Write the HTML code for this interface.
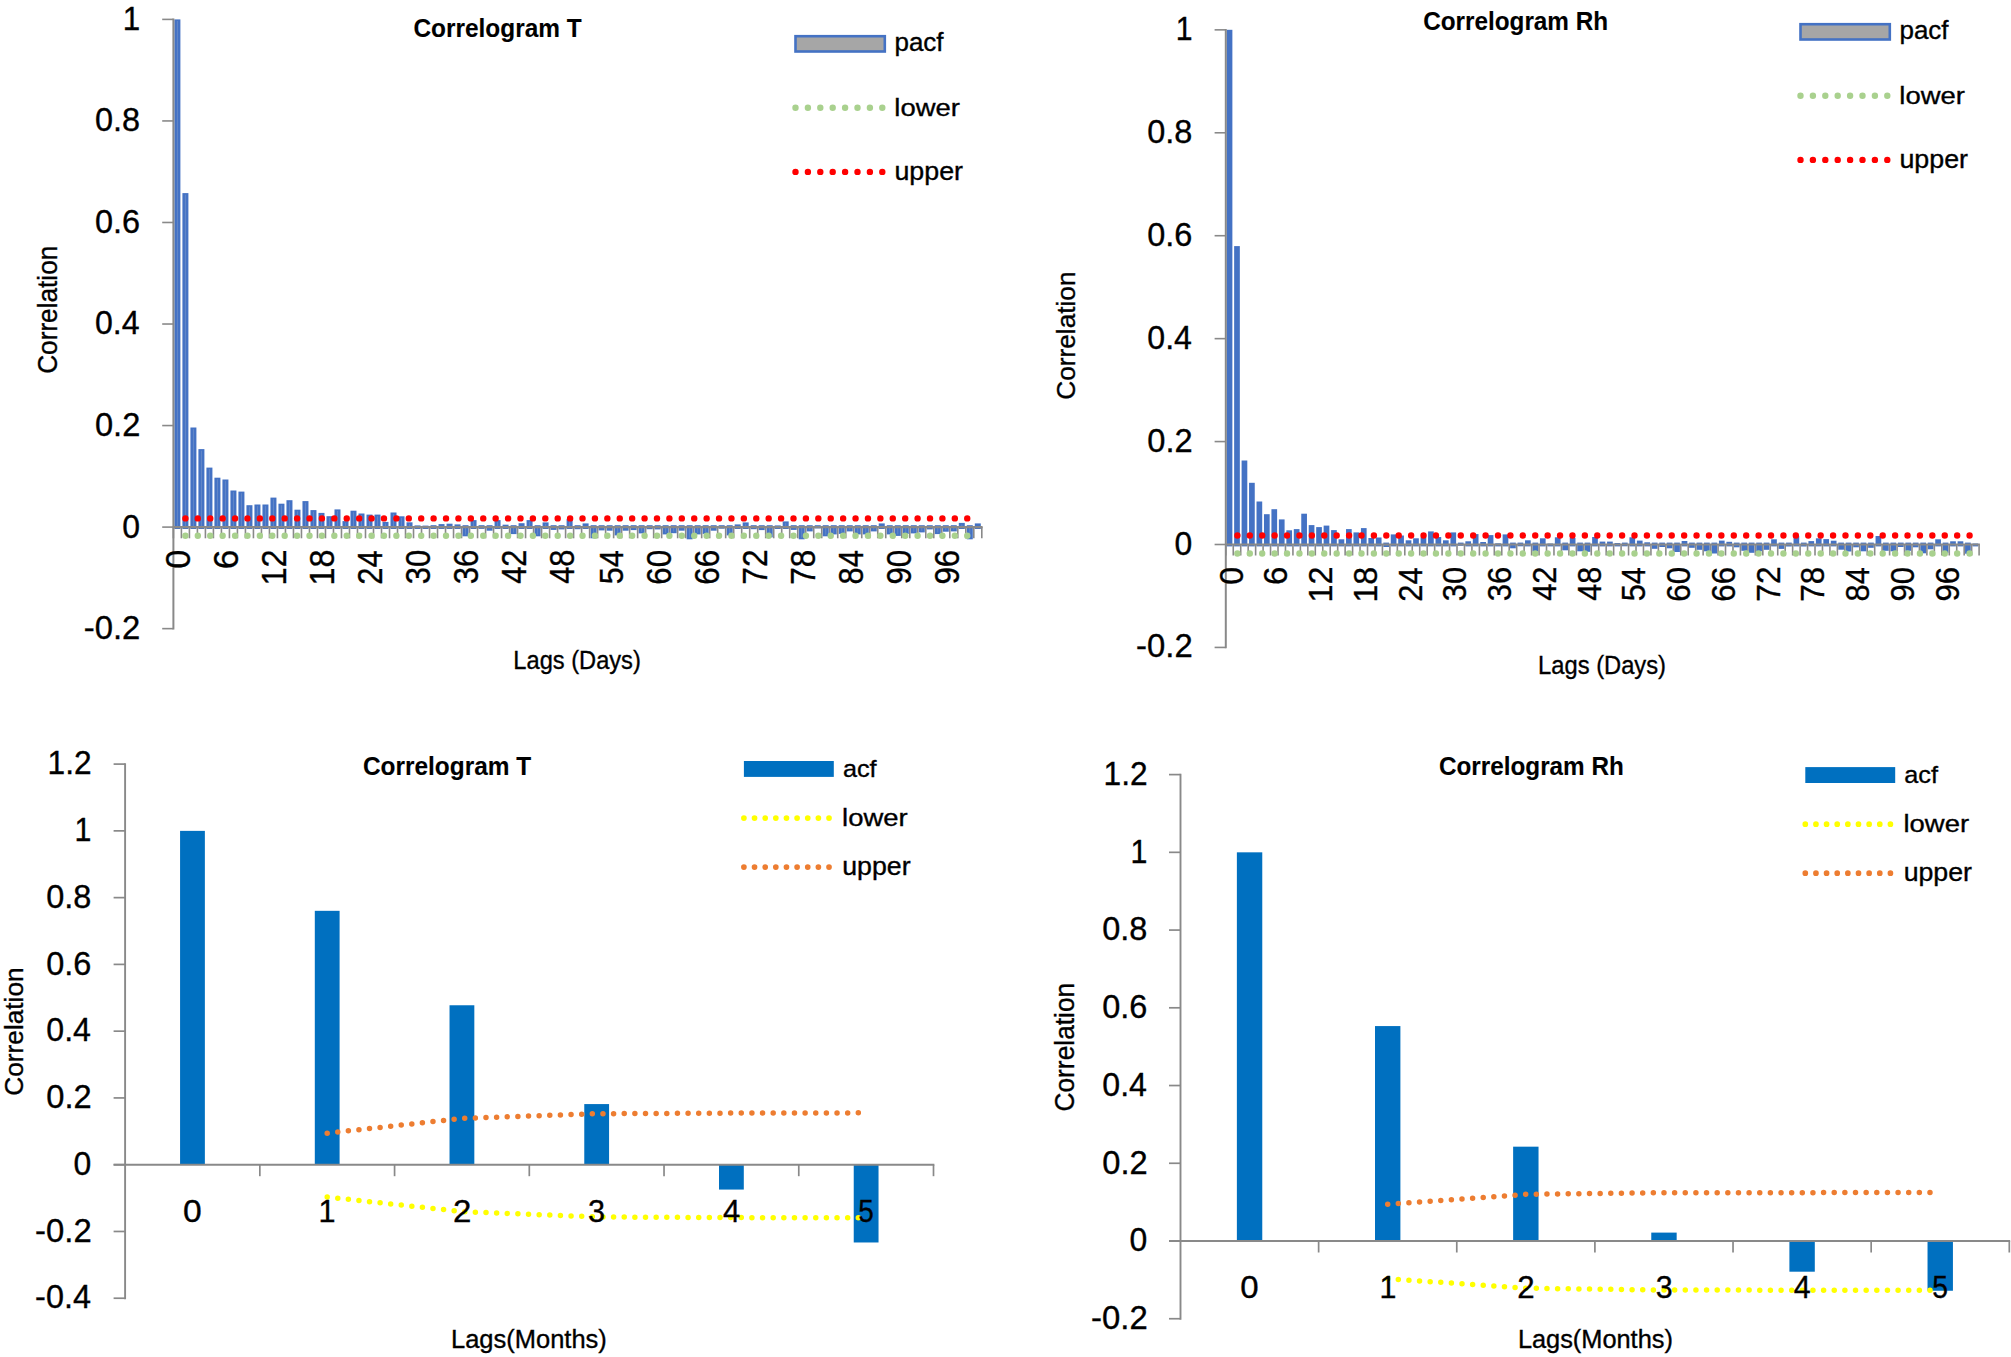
<!DOCTYPE html>
<html lang="en"><head><meta charset="utf-8"><title>Correlograms</title>
<style>html,body{margin:0;padding:0;background:#fff}svg{display:block}</style></head>
<body><svg width="2011" height="1357" viewBox="0 0 2011 1357">
<rect width="2011" height="1357" fill="#fff"/>
<g font-family="'Liberation Sans', sans-serif" fill="#000" stroke="#000" stroke-width="0.35">
<rect x="174.40" y="19.40" width="6.00" height="509.60" fill="#4472c4" stroke="none" />
<rect x="176.90" y="21.00" width="1.00" height="506.10" fill="#6388c9" stroke="none" />
<rect x="182.41" y="193.10" width="6.00" height="335.90" fill="#4472c4" stroke="none" />
<rect x="184.91" y="194.70" width="1.00" height="332.40" fill="#6388c9" stroke="none" />
<rect x="190.41" y="427.50" width="6.00" height="101.50" fill="#4472c4" stroke="none" />
<rect x="192.91" y="429.10" width="1.00" height="98.00" fill="#6388c9" stroke="none" />
<rect x="198.41" y="449.10" width="6.00" height="79.90" fill="#4472c4" stroke="none" />
<rect x="200.91" y="450.70" width="1.00" height="76.40" fill="#6388c9" stroke="none" />
<rect x="206.42" y="467.60" width="6.00" height="61.40" fill="#4472c4" stroke="none" />
<rect x="208.92" y="469.20" width="1.00" height="57.90" fill="#6388c9" stroke="none" />
<rect x="214.42" y="477.70" width="6.00" height="51.30" fill="#4472c4" stroke="none" />
<rect x="216.92" y="479.30" width="1.00" height="47.80" fill="#6388c9" stroke="none" />
<rect x="222.43" y="479.50" width="6.00" height="49.50" fill="#4472c4" stroke="none" />
<rect x="224.93" y="481.10" width="1.00" height="46.00" fill="#6388c9" stroke="none" />
<rect x="230.43" y="490.50" width="6.00" height="38.50" fill="#4472c4" stroke="none" />
<rect x="232.93" y="492.10" width="1.00" height="35.00" fill="#6388c9" stroke="none" />
<rect x="238.43" y="491.60" width="6.00" height="37.40" fill="#4472c4" stroke="none" />
<rect x="240.93" y="493.20" width="1.00" height="33.90" fill="#6388c9" stroke="none" />
<rect x="246.44" y="505.20" width="6.00" height="23.80" fill="#4472c4" stroke="none" />
<rect x="248.94" y="506.80" width="1.00" height="20.30" fill="#6388c9" stroke="none" />
<rect x="254.44" y="504.50" width="6.00" height="24.50" fill="#4472c4" stroke="none" />
<rect x="256.94" y="506.10" width="1.00" height="21.00" fill="#6388c9" stroke="none" />
<rect x="262.45" y="504.50" width="6.00" height="24.50" fill="#4472c4" stroke="none" />
<rect x="264.95" y="506.10" width="1.00" height="21.00" fill="#6388c9" stroke="none" />
<rect x="270.45" y="497.60" width="6.00" height="31.40" fill="#4472c4" stroke="none" />
<rect x="272.95" y="499.20" width="1.00" height="27.90" fill="#6388c9" stroke="none" />
<rect x="278.45" y="503.70" width="6.00" height="25.30" fill="#4472c4" stroke="none" />
<rect x="280.95" y="505.30" width="1.00" height="21.80" fill="#6388c9" stroke="none" />
<rect x="286.46" y="500.20" width="6.00" height="28.80" fill="#4472c4" stroke="none" />
<rect x="288.96" y="501.80" width="1.00" height="25.30" fill="#6388c9" stroke="none" />
<rect x="294.46" y="509.70" width="6.00" height="19.30" fill="#4472c4" stroke="none" />
<rect x="296.96" y="511.30" width="1.00" height="15.80" fill="#6388c9" stroke="none" />
<rect x="302.47" y="501.10" width="6.00" height="27.90" fill="#4472c4" stroke="none" />
<rect x="304.97" y="502.70" width="1.00" height="24.40" fill="#6388c9" stroke="none" />
<rect x="310.47" y="510.10" width="6.00" height="18.90" fill="#4472c4" stroke="none" />
<rect x="312.97" y="511.70" width="1.00" height="15.40" fill="#6388c9" stroke="none" />
<rect x="318.47" y="512.90" width="6.00" height="16.10" fill="#4472c4" stroke="none" />
<rect x="320.97" y="514.50" width="1.00" height="12.60" fill="#6388c9" stroke="none" />
<rect x="326.48" y="516.20" width="6.00" height="12.80" fill="#4472c4" stroke="none" />
<rect x="328.98" y="517.80" width="1.00" height="9.30" fill="#6388c9" stroke="none" />
<rect x="334.48" y="509.40" width="6.00" height="19.60" fill="#4472c4" stroke="none" />
<rect x="336.98" y="511.00" width="1.00" height="16.10" fill="#6388c9" stroke="none" />
<rect x="342.49" y="521.10" width="6.00" height="7.90" fill="#4472c4" stroke="none" />
<rect x="344.99" y="522.70" width="1.00" height="4.40" fill="#6388c9" stroke="none" />
<rect x="350.49" y="510.70" width="6.00" height="18.30" fill="#4472c4" stroke="none" />
<rect x="352.99" y="512.30" width="1.00" height="14.80" fill="#6388c9" stroke="none" />
<rect x="358.49" y="513.50" width="6.00" height="15.50" fill="#4472c4" stroke="none" />
<rect x="360.99" y="515.10" width="1.00" height="12.00" fill="#6388c9" stroke="none" />
<rect x="366.50" y="514.60" width="6.00" height="14.40" fill="#4472c4" stroke="none" />
<rect x="369.00" y="516.20" width="1.00" height="10.90" fill="#6388c9" stroke="none" />
<rect x="374.50" y="514.60" width="6.00" height="14.40" fill="#4472c4" stroke="none" />
<rect x="377.00" y="516.20" width="1.00" height="10.90" fill="#6388c9" stroke="none" />
<rect x="382.50" y="521.90" width="6.00" height="7.10" fill="#4472c4" stroke="none" />
<rect x="385.00" y="523.50" width="1.00" height="3.60" fill="#6388c9" stroke="none" />
<rect x="390.51" y="512.50" width="6.00" height="16.50" fill="#4472c4" stroke="none" />
<rect x="393.01" y="514.10" width="1.00" height="13.00" fill="#6388c9" stroke="none" />
<rect x="398.51" y="516.30" width="6.00" height="12.70" fill="#4472c4" stroke="none" />
<rect x="401.01" y="517.90" width="1.00" height="9.20" fill="#6388c9" stroke="none" />
<rect x="406.52" y="522.30" width="6.00" height="6.70" fill="#4472c4" stroke="none" />
<rect x="409.02" y="523.90" width="1.00" height="3.20" fill="#6388c9" stroke="none" />
<rect x="414.52" y="525.40" width="6.00" height="3.60" fill="#4472c4" stroke="none" />
<rect x="422.52" y="525.60" width="6.00" height="3.40" fill="#4472c4" stroke="none" />
<rect x="430.53" y="525.20" width="6.00" height="3.80" fill="#4472c4" stroke="none" />
<rect x="438.53" y="524.10" width="6.00" height="4.90" fill="#4472c4" stroke="none" />
<rect x="446.54" y="523.70" width="6.00" height="5.30" fill="#4472c4" stroke="none" />
<rect x="454.54" y="524.40" width="6.00" height="4.60" fill="#4472c4" stroke="none" />
<rect x="462.54" y="525.20" width="6.00" height="11.10" fill="#4472c4" stroke="none" />
<rect x="465.04" y="527.10" width="1.00" height="7.60" fill="#6388c9" stroke="none" />
<rect x="470.55" y="520.10" width="6.00" height="8.90" fill="#4472c4" stroke="none" />
<rect x="473.05" y="521.70" width="1.00" height="5.40" fill="#6388c9" stroke="none" />
<rect x="478.55" y="525.20" width="6.00" height="3.70" fill="#4472c4" stroke="none" />
<rect x="486.56" y="525.20" width="6.00" height="5.50" fill="#4472c4" stroke="none" />
<rect x="494.56" y="520.10" width="6.00" height="8.90" fill="#4472c4" stroke="none" />
<rect x="497.06" y="521.70" width="1.00" height="5.40" fill="#6388c9" stroke="none" />
<rect x="502.56" y="524.70" width="6.00" height="4.30" fill="#4472c4" stroke="none" />
<rect x="510.57" y="525.20" width="6.00" height="8.90" fill="#4472c4" stroke="none" />
<rect x="513.07" y="527.10" width="1.00" height="5.40" fill="#6388c9" stroke="none" />
<rect x="518.57" y="523.20" width="6.00" height="5.80" fill="#4472c4" stroke="none" />
<rect x="526.58" y="520.10" width="6.00" height="8.90" fill="#4472c4" stroke="none" />
<rect x="529.08" y="521.70" width="1.00" height="5.40" fill="#6388c9" stroke="none" />
<rect x="534.58" y="525.20" width="6.00" height="11.10" fill="#4472c4" stroke="none" />
<rect x="537.08" y="527.10" width="1.00" height="7.60" fill="#6388c9" stroke="none" />
<rect x="542.58" y="522.40" width="6.00" height="6.60" fill="#4472c4" stroke="none" />
<rect x="545.08" y="524.00" width="1.00" height="3.10" fill="#6388c9" stroke="none" />
<rect x="550.59" y="525.20" width="6.00" height="4.70" fill="#4472c4" stroke="none" />
<rect x="558.59" y="525.20" width="6.00" height="4.20" fill="#4472c4" stroke="none" />
<rect x="566.60" y="518.90" width="6.00" height="10.10" fill="#4472c4" stroke="none" />
<rect x="569.10" y="520.50" width="1.00" height="6.60" fill="#6388c9" stroke="none" />
<rect x="574.60" y="525.20" width="6.00" height="4.00" fill="#4472c4" stroke="none" />
<rect x="582.60" y="523.40" width="6.00" height="5.60" fill="#4472c4" stroke="none" />
<rect x="590.61" y="525.20" width="6.00" height="13.10" fill="#4472c4" stroke="none" />
<rect x="593.11" y="527.10" width="1.00" height="9.60" fill="#6388c9" stroke="none" />
<rect x="598.61" y="525.20" width="6.00" height="5.20" fill="#4472c4" stroke="none" />
<rect x="606.62" y="525.20" width="6.00" height="5.50" fill="#4472c4" stroke="none" />
<rect x="614.62" y="525.20" width="6.00" height="10.20" fill="#4472c4" stroke="none" />
<rect x="617.12" y="527.10" width="1.00" height="6.70" fill="#6388c9" stroke="none" />
<rect x="622.62" y="525.20" width="6.00" height="5.50" fill="#4472c4" stroke="none" />
<rect x="630.63" y="525.20" width="6.00" height="4.90" fill="#4472c4" stroke="none" />
<rect x="638.63" y="525.20" width="6.00" height="8.20" fill="#4472c4" stroke="none" />
<rect x="641.13" y="527.10" width="1.00" height="4.70" fill="#6388c9" stroke="none" />
<rect x="646.64" y="525.20" width="6.00" height="4.00" fill="#4472c4" stroke="none" />
<rect x="654.64" y="525.20" width="6.00" height="4.20" fill="#4472c4" stroke="none" />
<rect x="662.64" y="525.20" width="6.00" height="9.20" fill="#4472c4" stroke="none" />
<rect x="665.14" y="527.10" width="1.00" height="5.70" fill="#6388c9" stroke="none" />
<rect x="670.65" y="525.20" width="6.00" height="8.00" fill="#4472c4" stroke="none" />
<rect x="673.15" y="527.10" width="1.00" height="4.50" fill="#6388c9" stroke="none" />
<rect x="678.65" y="525.20" width="6.00" height="5.50" fill="#4472c4" stroke="none" />
<rect x="686.66" y="525.20" width="6.00" height="14.10" fill="#4472c4" stroke="none" />
<rect x="689.16" y="527.10" width="1.00" height="10.60" fill="#6388c9" stroke="none" />
<rect x="694.66" y="525.20" width="6.00" height="9.20" fill="#4472c4" stroke="none" />
<rect x="697.16" y="527.10" width="1.00" height="5.70" fill="#6388c9" stroke="none" />
<rect x="702.66" y="525.20" width="6.00" height="8.70" fill="#4472c4" stroke="none" />
<rect x="705.16" y="527.10" width="1.00" height="5.20" fill="#6388c9" stroke="none" />
<rect x="710.67" y="525.20" width="6.00" height="5.50" fill="#4472c4" stroke="none" />
<rect x="718.67" y="525.20" width="6.00" height="3.50" fill="#4472c4" stroke="none" />
<rect x="726.68" y="525.20" width="6.00" height="10.20" fill="#4472c4" stroke="none" />
<rect x="729.18" y="527.10" width="1.00" height="6.70" fill="#6388c9" stroke="none" />
<rect x="734.68" y="524.40" width="6.00" height="4.60" fill="#4472c4" stroke="none" />
<rect x="742.68" y="522.40" width="6.00" height="6.60" fill="#4472c4" stroke="none" />
<rect x="745.18" y="524.00" width="1.00" height="3.10" fill="#6388c9" stroke="none" />
<rect x="750.69" y="525.20" width="6.00" height="4.00" fill="#4472c4" stroke="none" />
<rect x="758.69" y="525.20" width="6.00" height="4.90" fill="#4472c4" stroke="none" />
<rect x="766.70" y="525.20" width="6.00" height="12.10" fill="#4472c4" stroke="none" />
<rect x="769.20" y="527.10" width="1.00" height="8.60" fill="#6388c9" stroke="none" />
<rect x="774.70" y="525.40" width="6.00" height="3.60" fill="#4472c4" stroke="none" />
<rect x="782.70" y="521.40" width="6.00" height="7.60" fill="#4472c4" stroke="none" />
<rect x="785.20" y="523.00" width="1.00" height="4.10" fill="#6388c9" stroke="none" />
<rect x="790.71" y="525.20" width="6.00" height="4.70" fill="#4472c4" stroke="none" />
<rect x="798.71" y="525.20" width="6.00" height="14.10" fill="#4472c4" stroke="none" />
<rect x="801.21" y="527.10" width="1.00" height="10.60" fill="#6388c9" stroke="none" />
<rect x="806.71" y="525.20" width="6.00" height="6.20" fill="#4472c4" stroke="none" />
<rect x="809.21" y="527.10" width="1.00" height="2.70" fill="#6388c9" stroke="none" />
<rect x="814.72" y="525.20" width="6.00" height="3.20" fill="#4472c4" stroke="none" />
<rect x="822.72" y="525.20" width="6.00" height="11.10" fill="#4472c4" stroke="none" />
<rect x="825.22" y="527.10" width="1.00" height="7.60" fill="#6388c9" stroke="none" />
<rect x="830.73" y="525.20" width="6.00" height="9.20" fill="#4472c4" stroke="none" />
<rect x="833.23" y="527.10" width="1.00" height="5.70" fill="#6388c9" stroke="none" />
<rect x="838.73" y="525.20" width="6.00" height="8.70" fill="#4472c4" stroke="none" />
<rect x="841.23" y="527.10" width="1.00" height="5.20" fill="#6388c9" stroke="none" />
<rect x="846.73" y="525.20" width="6.00" height="6.20" fill="#4472c4" stroke="none" />
<rect x="849.23" y="527.10" width="1.00" height="2.70" fill="#6388c9" stroke="none" />
<rect x="854.74" y="525.20" width="6.00" height="9.20" fill="#4472c4" stroke="none" />
<rect x="857.24" y="527.10" width="1.00" height="5.70" fill="#6388c9" stroke="none" />
<rect x="862.74" y="525.20" width="6.00" height="9.20" fill="#4472c4" stroke="none" />
<rect x="865.24" y="527.10" width="1.00" height="5.70" fill="#6388c9" stroke="none" />
<rect x="870.75" y="525.20" width="6.00" height="6.20" fill="#4472c4" stroke="none" />
<rect x="873.25" y="527.10" width="1.00" height="2.70" fill="#6388c9" stroke="none" />
<rect x="878.75" y="523.40" width="6.00" height="5.60" fill="#4472c4" stroke="none" />
<rect x="886.75" y="525.20" width="6.00" height="9.20" fill="#4472c4" stroke="none" />
<rect x="889.25" y="527.10" width="1.00" height="5.70" fill="#6388c9" stroke="none" />
<rect x="894.76" y="525.20" width="6.00" height="10.70" fill="#4472c4" stroke="none" />
<rect x="897.26" y="527.10" width="1.00" height="7.20" fill="#6388c9" stroke="none" />
<rect x="902.76" y="525.20" width="6.00" height="8.70" fill="#4472c4" stroke="none" />
<rect x="905.26" y="527.10" width="1.00" height="5.20" fill="#6388c9" stroke="none" />
<rect x="910.77" y="525.20" width="6.00" height="8.20" fill="#4472c4" stroke="none" />
<rect x="913.27" y="527.10" width="1.00" height="4.70" fill="#6388c9" stroke="none" />
<rect x="918.77" y="525.20" width="6.00" height="7.20" fill="#4472c4" stroke="none" />
<rect x="921.27" y="527.10" width="1.00" height="3.70" fill="#6388c9" stroke="none" />
<rect x="926.77" y="525.20" width="6.00" height="4.20" fill="#4472c4" stroke="none" />
<rect x="934.78" y="525.20" width="6.00" height="8.90" fill="#4472c4" stroke="none" />
<rect x="937.28" y="527.10" width="1.00" height="5.40" fill="#6388c9" stroke="none" />
<rect x="942.78" y="525.20" width="6.00" height="6.50" fill="#4472c4" stroke="none" />
<rect x="945.28" y="527.10" width="1.00" height="3.00" fill="#6388c9" stroke="none" />
<rect x="950.79" y="525.20" width="6.00" height="6.20" fill="#4472c4" stroke="none" />
<rect x="953.29" y="527.10" width="1.00" height="2.70" fill="#6388c9" stroke="none" />
<rect x="958.79" y="522.90" width="6.00" height="6.10" fill="#4472c4" stroke="none" />
<rect x="961.29" y="524.50" width="1.00" height="2.60" fill="#6388c9" stroke="none" />
<rect x="966.79" y="525.20" width="6.00" height="14.10" fill="#4472c4" stroke="none" />
<rect x="969.29" y="527.10" width="1.00" height="10.60" fill="#6388c9" stroke="none" />
<rect x="974.80" y="523.40" width="6.00" height="5.60" fill="#4472c4" stroke="none" />
<line x1="173.40" y1="527.10" x2="173.40" y2="538.30" stroke="#898989" stroke-width="1.6" />
<line x1="181.40" y1="527.10" x2="181.40" y2="538.30" stroke="#898989" stroke-width="1.6" />
<line x1="189.41" y1="527.10" x2="189.41" y2="538.30" stroke="#898989" stroke-width="1.6" />
<line x1="197.41" y1="527.10" x2="197.41" y2="538.30" stroke="#898989" stroke-width="1.6" />
<line x1="205.42" y1="527.10" x2="205.42" y2="538.30" stroke="#898989" stroke-width="1.6" />
<line x1="213.42" y1="527.10" x2="213.42" y2="538.30" stroke="#898989" stroke-width="1.6" />
<line x1="221.42" y1="527.10" x2="221.42" y2="538.30" stroke="#898989" stroke-width="1.6" />
<line x1="229.43" y1="527.10" x2="229.43" y2="538.30" stroke="#898989" stroke-width="1.6" />
<line x1="237.43" y1="527.10" x2="237.43" y2="538.30" stroke="#898989" stroke-width="1.6" />
<line x1="245.44" y1="527.10" x2="245.44" y2="538.30" stroke="#898989" stroke-width="1.6" />
<line x1="253.44" y1="527.10" x2="253.44" y2="538.30" stroke="#898989" stroke-width="1.6" />
<line x1="261.44" y1="527.10" x2="261.44" y2="538.30" stroke="#898989" stroke-width="1.6" />
<line x1="269.45" y1="527.10" x2="269.45" y2="538.30" stroke="#898989" stroke-width="1.6" />
<line x1="277.45" y1="527.10" x2="277.45" y2="538.30" stroke="#898989" stroke-width="1.6" />
<line x1="285.46" y1="527.10" x2="285.46" y2="538.30" stroke="#898989" stroke-width="1.6" />
<line x1="293.46" y1="527.10" x2="293.46" y2="538.30" stroke="#898989" stroke-width="1.6" />
<line x1="301.46" y1="527.10" x2="301.46" y2="538.30" stroke="#898989" stroke-width="1.6" />
<line x1="309.47" y1="527.10" x2="309.47" y2="538.30" stroke="#898989" stroke-width="1.6" />
<line x1="317.47" y1="527.10" x2="317.47" y2="538.30" stroke="#898989" stroke-width="1.6" />
<line x1="325.48" y1="527.10" x2="325.48" y2="538.30" stroke="#898989" stroke-width="1.6" />
<line x1="333.48" y1="527.10" x2="333.48" y2="538.30" stroke="#898989" stroke-width="1.6" />
<line x1="341.48" y1="527.10" x2="341.48" y2="538.30" stroke="#898989" stroke-width="1.6" />
<line x1="349.49" y1="527.10" x2="349.49" y2="538.30" stroke="#898989" stroke-width="1.6" />
<line x1="357.49" y1="527.10" x2="357.49" y2="538.30" stroke="#898989" stroke-width="1.6" />
<line x1="365.50" y1="527.10" x2="365.50" y2="538.30" stroke="#898989" stroke-width="1.6" />
<line x1="373.50" y1="527.10" x2="373.50" y2="538.30" stroke="#898989" stroke-width="1.6" />
<line x1="381.50" y1="527.10" x2="381.50" y2="538.30" stroke="#898989" stroke-width="1.6" />
<line x1="389.51" y1="527.10" x2="389.51" y2="538.30" stroke="#898989" stroke-width="1.6" />
<line x1="397.51" y1="527.10" x2="397.51" y2="538.30" stroke="#898989" stroke-width="1.6" />
<line x1="405.51" y1="527.10" x2="405.51" y2="538.30" stroke="#898989" stroke-width="1.6" />
<line x1="413.52" y1="527.10" x2="413.52" y2="538.30" stroke="#898989" stroke-width="1.6" />
<line x1="421.52" y1="527.10" x2="421.52" y2="538.30" stroke="#898989" stroke-width="1.6" />
<line x1="429.53" y1="527.10" x2="429.53" y2="538.30" stroke="#898989" stroke-width="1.6" />
<line x1="437.53" y1="527.10" x2="437.53" y2="538.30" stroke="#898989" stroke-width="1.6" />
<line x1="445.53" y1="527.10" x2="445.53" y2="538.30" stroke="#898989" stroke-width="1.6" />
<line x1="453.54" y1="527.10" x2="453.54" y2="538.30" stroke="#898989" stroke-width="1.6" />
<line x1="461.54" y1="527.10" x2="461.54" y2="538.30" stroke="#898989" stroke-width="1.6" />
<line x1="469.55" y1="527.10" x2="469.55" y2="538.30" stroke="#898989" stroke-width="1.6" />
<line x1="477.55" y1="527.10" x2="477.55" y2="538.30" stroke="#898989" stroke-width="1.6" />
<line x1="485.55" y1="527.10" x2="485.55" y2="538.30" stroke="#898989" stroke-width="1.6" />
<line x1="493.56" y1="527.10" x2="493.56" y2="538.30" stroke="#898989" stroke-width="1.6" />
<line x1="501.56" y1="527.10" x2="501.56" y2="538.30" stroke="#898989" stroke-width="1.6" />
<line x1="509.57" y1="527.10" x2="509.57" y2="538.30" stroke="#898989" stroke-width="1.6" />
<line x1="517.57" y1="527.10" x2="517.57" y2="538.30" stroke="#898989" stroke-width="1.6" />
<line x1="525.57" y1="527.10" x2="525.57" y2="538.30" stroke="#898989" stroke-width="1.6" />
<line x1="533.58" y1="527.10" x2="533.58" y2="538.30" stroke="#898989" stroke-width="1.6" />
<line x1="541.58" y1="527.10" x2="541.58" y2="538.30" stroke="#898989" stroke-width="1.6" />
<line x1="549.59" y1="527.10" x2="549.59" y2="538.30" stroke="#898989" stroke-width="1.6" />
<line x1="557.59" y1="527.10" x2="557.59" y2="538.30" stroke="#898989" stroke-width="1.6" />
<line x1="565.59" y1="527.10" x2="565.59" y2="538.30" stroke="#898989" stroke-width="1.6" />
<line x1="573.60" y1="527.10" x2="573.60" y2="538.30" stroke="#898989" stroke-width="1.6" />
<line x1="581.60" y1="527.10" x2="581.60" y2="538.30" stroke="#898989" stroke-width="1.6" />
<line x1="589.61" y1="527.10" x2="589.61" y2="538.30" stroke="#898989" stroke-width="1.6" />
<line x1="597.61" y1="527.10" x2="597.61" y2="538.30" stroke="#898989" stroke-width="1.6" />
<line x1="605.61" y1="527.10" x2="605.61" y2="538.30" stroke="#898989" stroke-width="1.6" />
<line x1="613.62" y1="527.10" x2="613.62" y2="538.30" stroke="#898989" stroke-width="1.6" />
<line x1="621.62" y1="527.10" x2="621.62" y2="538.30" stroke="#898989" stroke-width="1.6" />
<line x1="629.63" y1="527.10" x2="629.63" y2="538.30" stroke="#898989" stroke-width="1.6" />
<line x1="637.63" y1="527.10" x2="637.63" y2="538.30" stroke="#898989" stroke-width="1.6" />
<line x1="645.63" y1="527.10" x2="645.63" y2="538.30" stroke="#898989" stroke-width="1.6" />
<line x1="653.64" y1="527.10" x2="653.64" y2="538.30" stroke="#898989" stroke-width="1.6" />
<line x1="661.64" y1="527.10" x2="661.64" y2="538.30" stroke="#898989" stroke-width="1.6" />
<line x1="669.65" y1="527.10" x2="669.65" y2="538.30" stroke="#898989" stroke-width="1.6" />
<line x1="677.65" y1="527.10" x2="677.65" y2="538.30" stroke="#898989" stroke-width="1.6" />
<line x1="685.65" y1="527.10" x2="685.65" y2="538.30" stroke="#898989" stroke-width="1.6" />
<line x1="693.66" y1="527.10" x2="693.66" y2="538.30" stroke="#898989" stroke-width="1.6" />
<line x1="701.66" y1="527.10" x2="701.66" y2="538.30" stroke="#898989" stroke-width="1.6" />
<line x1="709.67" y1="527.10" x2="709.67" y2="538.30" stroke="#898989" stroke-width="1.6" />
<line x1="717.67" y1="527.10" x2="717.67" y2="538.30" stroke="#898989" stroke-width="1.6" />
<line x1="725.67" y1="527.10" x2="725.67" y2="538.30" stroke="#898989" stroke-width="1.6" />
<line x1="733.68" y1="527.10" x2="733.68" y2="538.30" stroke="#898989" stroke-width="1.6" />
<line x1="741.68" y1="527.10" x2="741.68" y2="538.30" stroke="#898989" stroke-width="1.6" />
<line x1="749.69" y1="527.10" x2="749.69" y2="538.30" stroke="#898989" stroke-width="1.6" />
<line x1="757.69" y1="527.10" x2="757.69" y2="538.30" stroke="#898989" stroke-width="1.6" />
<line x1="765.69" y1="527.10" x2="765.69" y2="538.30" stroke="#898989" stroke-width="1.6" />
<line x1="773.70" y1="527.10" x2="773.70" y2="538.30" stroke="#898989" stroke-width="1.6" />
<line x1="781.70" y1="527.10" x2="781.70" y2="538.30" stroke="#898989" stroke-width="1.6" />
<line x1="789.70" y1="527.10" x2="789.70" y2="538.30" stroke="#898989" stroke-width="1.6" />
<line x1="797.71" y1="527.10" x2="797.71" y2="538.30" stroke="#898989" stroke-width="1.6" />
<line x1="805.71" y1="527.10" x2="805.71" y2="538.30" stroke="#898989" stroke-width="1.6" />
<line x1="813.72" y1="527.10" x2="813.72" y2="538.30" stroke="#898989" stroke-width="1.6" />
<line x1="821.72" y1="527.10" x2="821.72" y2="538.30" stroke="#898989" stroke-width="1.6" />
<line x1="829.72" y1="527.10" x2="829.72" y2="538.30" stroke="#898989" stroke-width="1.6" />
<line x1="837.73" y1="527.10" x2="837.73" y2="538.30" stroke="#898989" stroke-width="1.6" />
<line x1="845.73" y1="527.10" x2="845.73" y2="538.30" stroke="#898989" stroke-width="1.6" />
<line x1="853.74" y1="527.10" x2="853.74" y2="538.30" stroke="#898989" stroke-width="1.6" />
<line x1="861.74" y1="527.10" x2="861.74" y2="538.30" stroke="#898989" stroke-width="1.6" />
<line x1="869.74" y1="527.10" x2="869.74" y2="538.30" stroke="#898989" stroke-width="1.6" />
<line x1="877.75" y1="527.10" x2="877.75" y2="538.30" stroke="#898989" stroke-width="1.6" />
<line x1="885.75" y1="527.10" x2="885.75" y2="538.30" stroke="#898989" stroke-width="1.6" />
<line x1="893.76" y1="527.10" x2="893.76" y2="538.30" stroke="#898989" stroke-width="1.6" />
<line x1="901.76" y1="527.10" x2="901.76" y2="538.30" stroke="#898989" stroke-width="1.6" />
<line x1="909.76" y1="527.10" x2="909.76" y2="538.30" stroke="#898989" stroke-width="1.6" />
<line x1="917.77" y1="527.10" x2="917.77" y2="538.30" stroke="#898989" stroke-width="1.6" />
<line x1="925.77" y1="527.10" x2="925.77" y2="538.30" stroke="#898989" stroke-width="1.6" />
<line x1="933.78" y1="527.10" x2="933.78" y2="538.30" stroke="#898989" stroke-width="1.6" />
<line x1="941.78" y1="527.10" x2="941.78" y2="538.30" stroke="#898989" stroke-width="1.6" />
<line x1="949.78" y1="527.10" x2="949.78" y2="538.30" stroke="#898989" stroke-width="1.6" />
<line x1="957.79" y1="527.10" x2="957.79" y2="538.30" stroke="#898989" stroke-width="1.6" />
<line x1="965.79" y1="527.10" x2="965.79" y2="538.30" stroke="#898989" stroke-width="1.6" />
<line x1="973.80" y1="527.10" x2="973.80" y2="538.30" stroke="#898989" stroke-width="1.6" />
<line x1="981.80" y1="527.10" x2="981.80" y2="538.30" stroke="#898989" stroke-width="1.6" />
<line x1="172.60" y1="527.10" x2="982.60" y2="527.10" stroke="#898989" stroke-width="2.1" />
<line x1="173.40" y1="18.60" x2="173.40" y2="629.50" stroke="#898989" stroke-width="2.0" />
<line x1="162.20" y1="19.40" x2="173.40" y2="19.40" stroke="#898989" stroke-width="1.6" />
<line x1="162.20" y1="120.94" x2="173.40" y2="120.94" stroke="#898989" stroke-width="1.6" />
<line x1="162.20" y1="222.48" x2="173.40" y2="222.48" stroke="#898989" stroke-width="1.6" />
<line x1="162.20" y1="324.02" x2="173.40" y2="324.02" stroke="#898989" stroke-width="1.6" />
<line x1="162.20" y1="425.56" x2="173.40" y2="425.56" stroke="#898989" stroke-width="1.6" />
<line x1="162.20" y1="527.10" x2="173.40" y2="527.10" stroke="#898989" stroke-width="1.6" />
<line x1="162.20" y1="628.64" x2="173.40" y2="628.64" stroke="#898989" stroke-width="1.6" />
<path d="M185.41,535.80 L977.80,535.80" fill="none" stroke="#a9d18e" stroke-width="6.4" stroke-linecap="round" stroke-dasharray="0 12.41"/>
<path d="M185.41,518.40 L977.80,518.40" fill="none" stroke="#ff0000" stroke-width="6.4" stroke-linecap="round" stroke-dasharray="0 12.41"/>
<text transform="translate(122.83,29.80) scale(0.9562,1)" font-size="32.76">1</text>
<text transform="translate(94.98,131.34) scale(0.9909,1)" font-size="32.76">0.8</text>
<text transform="translate(94.98,232.88) scale(0.9909,1)" font-size="32.76">0.6</text>
<text transform="translate(94.99,334.42) scale(0.9797,1)" font-size="32.76">0.4</text>
<text transform="translate(94.97,435.96) scale(0.9966,1)" font-size="32.76">0.2</text>
<text transform="translate(122.20,537.50) scale(0.9748,1)" font-size="32.76">0</text>
<text transform="translate(83.80,639.04) scale(1.0024,1)" font-size="32.76">-0.2</text>
<text transform="translate(190.30,568.79) rotate(-90) scale(1.0024,1)" font-size="34.16">0</text>
<text transform="translate(238.33,569.19) rotate(-90) scale(1.0349,1)" font-size="34.16">6</text>
<text transform="translate(286.35,585.57) rotate(-90) scale(0.9526,1)" font-size="34.16">12</text>
<text transform="translate(334.37,585.55) rotate(-90) scale(0.9454,1)" font-size="34.16">18</text>
<text transform="translate(382.40,584.68) rotate(-90) scale(0.9088,1)" font-size="34.16">24</text>
<text transform="translate(430.42,584.29) rotate(-90) scale(0.9066,1)" font-size="34.16">30</text>
<text transform="translate(478.44,584.29) rotate(-90) scale(0.9110,1)" font-size="34.16">36</text>
<text transform="translate(526.47,583.82) rotate(-90) scale(0.9044,1)" font-size="34.16">42</text>
<text transform="translate(574.49,583.82) rotate(-90) scale(0.8979,1)" font-size="34.16">48</text>
<text transform="translate(622.52,584.35) rotate(-90) scale(0.9000,1)" font-size="34.16">54</text>
<text transform="translate(670.54,584.69) rotate(-90) scale(0.9176,1)" font-size="34.16">60</text>
<text transform="translate(718.56,584.70) rotate(-90) scale(0.9222,1)" font-size="34.16">66</text>
<text transform="translate(766.59,584.71) rotate(-90) scale(0.9290,1)" font-size="34.16">72</text>
<text transform="translate(814.61,584.70) rotate(-90) scale(0.9222,1)" font-size="34.16">78</text>
<text transform="translate(862.63,584.43) rotate(-90) scale(0.9022,1)" font-size="34.16">84</text>
<text transform="translate(910.66,584.61) rotate(-90) scale(0.9154,1)" font-size="34.16">90</text>
<text transform="translate(958.68,584.62) rotate(-90) scale(0.9199,1)" font-size="34.16">96</text>
<text transform="translate(413.42,36.80) scale(0.9519,1)" font-size="25.66" font-weight="bold" stroke-width="0.1">Correlogram T</text>
<text transform="translate(56.80,373.84) rotate(-90) scale(0.9735,1)" font-size="26.93">Correlation</text>
<text transform="translate(513.32,668.80) scale(0.9177,1)" font-size="25.78">Lags (Days)</text>
<rect x="795.50" y="36.20" width="89.30" height="15.30" fill="#a6a6a6" stroke="#4472c4" stroke-width="2.6"/>
<path d="M795.50,107.80 L885.00,107.80" fill="none" stroke="#a9d18e" stroke-width="6.4" stroke-linecap="round" stroke-dasharray="0 12.4"/>
<path d="M795.50,171.90 L885.00,171.90" fill="none" stroke="#ff0000" stroke-width="6.4" stroke-linecap="round" stroke-dasharray="0 12.4"/>
<text transform="translate(894.49,51.10) scale(1.0395,1)" font-size="24.98">pacf</text>
<text transform="translate(894.32,115.80) scale(1.1074,1)" font-size="24.79">lower</text>
<text transform="translate(894.43,179.50) scale(1.0618,1)" font-size="25.26">upper</text>
<rect x="1226.68" y="29.80" width="5.70" height="516.60" fill="#4472c4" stroke="none" />
<rect x="1234.14" y="246.10" width="5.70" height="300.30" fill="#4472c4" stroke="none" />
<rect x="1241.60" y="460.50" width="5.70" height="85.90" fill="#4472c4" stroke="none" />
<rect x="1249.05" y="482.80" width="5.70" height="63.60" fill="#4472c4" stroke="none" />
<rect x="1256.51" y="501.50" width="5.70" height="44.90" fill="#4472c4" stroke="none" />
<rect x="1263.97" y="514.20" width="5.70" height="32.20" fill="#4472c4" stroke="none" />
<rect x="1271.43" y="509.20" width="5.70" height="37.20" fill="#4472c4" stroke="none" />
<rect x="1278.89" y="519.40" width="5.70" height="27.00" fill="#4472c4" stroke="none" />
<rect x="1286.35" y="530.30" width="5.70" height="16.10" fill="#4472c4" stroke="none" />
<rect x="1293.80" y="529.10" width="5.70" height="17.30" fill="#4472c4" stroke="none" />
<rect x="1301.26" y="513.70" width="5.70" height="32.70" fill="#4472c4" stroke="none" />
<rect x="1308.72" y="525.10" width="5.70" height="21.30" fill="#4472c4" stroke="none" />
<rect x="1316.18" y="527.10" width="5.70" height="19.30" fill="#4472c4" stroke="none" />
<rect x="1323.64" y="525.60" width="5.70" height="20.80" fill="#4472c4" stroke="none" />
<rect x="1331.10" y="530.10" width="5.70" height="16.30" fill="#4472c4" stroke="none" />
<rect x="1338.56" y="539.30" width="5.70" height="7.10" fill="#4472c4" stroke="none" />
<rect x="1346.01" y="529.10" width="5.70" height="17.30" fill="#4472c4" stroke="none" />
<rect x="1353.47" y="532.40" width="5.70" height="14.00" fill="#4472c4" stroke="none" />
<rect x="1360.93" y="528.10" width="5.70" height="18.30" fill="#4472c4" stroke="none" />
<rect x="1368.39" y="538.00" width="5.70" height="8.40" fill="#4472c4" stroke="none" />
<rect x="1375.85" y="537.50" width="5.70" height="8.90" fill="#4472c4" stroke="none" />
<rect x="1383.31" y="542.60" width="5.70" height="4.40" fill="#4472c4" stroke="none" />
<rect x="1390.76" y="534.40" width="5.70" height="12.00" fill="#4472c4" stroke="none" />
<rect x="1398.22" y="535.50" width="5.70" height="10.90" fill="#4472c4" stroke="none" />
<rect x="1405.68" y="540.30" width="5.70" height="6.10" fill="#4472c4" stroke="none" />
<rect x="1413.14" y="538.30" width="5.70" height="8.10" fill="#4472c4" stroke="none" />
<rect x="1420.60" y="537.30" width="5.70" height="9.10" fill="#4472c4" stroke="none" />
<rect x="1428.06" y="531.40" width="5.70" height="15.00" fill="#4472c4" stroke="none" />
<rect x="1435.51" y="537.00" width="5.70" height="9.40" fill="#4472c4" stroke="none" />
<rect x="1442.97" y="540.30" width="5.70" height="6.10" fill="#4472c4" stroke="none" />
<rect x="1450.43" y="532.40" width="5.70" height="14.00" fill="#4472c4" stroke="none" />
<rect x="1457.89" y="542.60" width="5.70" height="3.20" fill="#4472c4" stroke="none" />
<rect x="1465.35" y="541.30" width="5.70" height="5.10" fill="#4472c4" stroke="none" />
<rect x="1472.81" y="534.10" width="5.70" height="12.30" fill="#4472c4" stroke="none" />
<rect x="1480.27" y="542.00" width="5.70" height="4.40" fill="#4472c4" stroke="none" />
<rect x="1487.72" y="535.10" width="5.70" height="11.30" fill="#4472c4" stroke="none" />
<rect x="1495.18" y="543.30" width="5.70" height="3.10" fill="#4472c4" stroke="none" />
<rect x="1502.64" y="534.40" width="5.70" height="12.00" fill="#4472c4" stroke="none" />
<rect x="1510.10" y="542.60" width="5.70" height="5.70" fill="#4472c4" stroke="none" />
<rect x="1517.56" y="542.60" width="5.70" height="3.70" fill="#4472c4" stroke="none" />
<rect x="1525.02" y="540.30" width="5.70" height="6.10" fill="#4472c4" stroke="none" />
<rect x="1532.47" y="542.60" width="5.70" height="8.90" fill="#4472c4" stroke="none" />
<rect x="1539.93" y="538.30" width="5.70" height="8.10" fill="#4472c4" stroke="none" />
<rect x="1547.39" y="543.50" width="5.70" height="2.90" fill="#4472c4" stroke="none" />
<rect x="1554.85" y="537.30" width="5.70" height="9.10" fill="#4472c4" stroke="none" />
<rect x="1562.31" y="542.60" width="5.70" height="7.70" fill="#4472c4" stroke="none" />
<rect x="1569.77" y="538.00" width="5.70" height="8.40" fill="#4472c4" stroke="none" />
<rect x="1577.22" y="542.60" width="5.70" height="8.70" fill="#4472c4" stroke="none" />
<rect x="1584.68" y="542.60" width="5.70" height="9.20" fill="#4472c4" stroke="none" />
<rect x="1592.14" y="537.00" width="5.70" height="9.40" fill="#4472c4" stroke="none" />
<rect x="1599.60" y="541.60" width="5.70" height="4.80" fill="#4472c4" stroke="none" />
<rect x="1607.06" y="541.60" width="5.70" height="4.80" fill="#4472c4" stroke="none" />
<rect x="1614.52" y="543.00" width="5.70" height="3.40" fill="#4472c4" stroke="none" />
<rect x="1621.98" y="542.60" width="5.70" height="3.70" fill="#4472c4" stroke="none" />
<rect x="1629.43" y="537.30" width="5.70" height="9.10" fill="#4472c4" stroke="none" />
<rect x="1636.89" y="540.60" width="5.70" height="5.80" fill="#4472c4" stroke="none" />
<rect x="1644.35" y="542.30" width="5.70" height="4.10" fill="#4472c4" stroke="none" />
<rect x="1651.81" y="542.60" width="5.70" height="6.20" fill="#4472c4" stroke="none" />
<rect x="1659.27" y="542.60" width="5.70" height="4.40" fill="#4472c4" stroke="none" />
<rect x="1666.73" y="542.60" width="5.70" height="5.70" fill="#4472c4" stroke="none" />
<rect x="1674.18" y="542.60" width="5.70" height="9.40" fill="#4472c4" stroke="none" />
<rect x="1681.64" y="541.00" width="5.70" height="5.40" fill="#4472c4" stroke="none" />
<rect x="1689.10" y="542.60" width="5.70" height="5.20" fill="#4472c4" stroke="none" />
<rect x="1696.56" y="542.60" width="5.70" height="7.20" fill="#4472c4" stroke="none" />
<rect x="1704.02" y="542.60" width="5.70" height="8.70" fill="#4472c4" stroke="none" />
<rect x="1711.48" y="542.60" width="5.70" height="10.90" fill="#4472c4" stroke="none" />
<rect x="1718.93" y="540.60" width="5.70" height="5.80" fill="#4472c4" stroke="none" />
<rect x="1726.39" y="541.80" width="5.70" height="4.60" fill="#4472c4" stroke="none" />
<rect x="1733.85" y="542.60" width="5.70" height="4.70" fill="#4472c4" stroke="none" />
<rect x="1741.31" y="542.60" width="5.70" height="8.20" fill="#4472c4" stroke="none" />
<rect x="1748.77" y="542.60" width="5.70" height="10.20" fill="#4472c4" stroke="none" />
<rect x="1756.23" y="542.60" width="5.70" height="8.70" fill="#4472c4" stroke="none" />
<rect x="1763.69" y="542.60" width="5.70" height="7.20" fill="#4472c4" stroke="none" />
<rect x="1771.14" y="539.30" width="5.70" height="7.10" fill="#4472c4" stroke="none" />
<rect x="1778.60" y="542.60" width="5.70" height="6.30" fill="#4472c4" stroke="none" />
<rect x="1786.06" y="542.60" width="5.70" height="3.90" fill="#4472c4" stroke="none" />
<rect x="1793.52" y="535.80" width="5.70" height="10.60" fill="#4472c4" stroke="none" />
<rect x="1800.98" y="542.60" width="5.70" height="3.90" fill="#4472c4" stroke="none" />
<rect x="1808.44" y="541.10" width="5.70" height="5.30" fill="#4472c4" stroke="none" />
<rect x="1815.89" y="538.30" width="5.70" height="8.10" fill="#4472c4" stroke="none" />
<rect x="1823.35" y="539.10" width="5.70" height="7.30" fill="#4472c4" stroke="none" />
<rect x="1830.81" y="540.70" width="5.70" height="5.70" fill="#4472c4" stroke="none" />
<rect x="1838.27" y="542.60" width="5.70" height="7.10" fill="#4472c4" stroke="none" />
<rect x="1845.73" y="542.60" width="5.70" height="8.90" fill="#4472c4" stroke="none" />
<rect x="1853.19" y="542.60" width="5.70" height="4.70" fill="#4472c4" stroke="none" />
<rect x="1860.64" y="542.60" width="5.70" height="8.70" fill="#4472c4" stroke="none" />
<rect x="1868.10" y="542.60" width="5.70" height="5.20" fill="#4472c4" stroke="none" />
<rect x="1875.56" y="536.00" width="5.70" height="10.40" fill="#4472c4" stroke="none" />
<rect x="1883.02" y="542.60" width="5.70" height="8.20" fill="#4472c4" stroke="none" />
<rect x="1890.48" y="542.60" width="5.70" height="8.70" fill="#4472c4" stroke="none" />
<rect x="1897.94" y="542.60" width="5.70" height="4.40" fill="#4472c4" stroke="none" />
<rect x="1905.40" y="542.60" width="5.70" height="8.20" fill="#4472c4" stroke="none" />
<rect x="1912.85" y="542.60" width="5.70" height="4.70" fill="#4472c4" stroke="none" />
<rect x="1920.31" y="542.60" width="5.70" height="10.70" fill="#4472c4" stroke="none" />
<rect x="1927.77" y="542.60" width="5.70" height="6.70" fill="#4472c4" stroke="none" />
<rect x="1935.23" y="539.30" width="5.70" height="7.10" fill="#4472c4" stroke="none" />
<rect x="1942.69" y="542.60" width="5.70" height="10.20" fill="#4472c4" stroke="none" />
<rect x="1950.15" y="541.30" width="5.70" height="5.10" fill="#4472c4" stroke="none" />
<rect x="1957.60" y="541.30" width="5.70" height="5.10" fill="#4472c4" stroke="none" />
<rect x="1965.06" y="542.60" width="5.70" height="11.10" fill="#4472c4" stroke="none" />
<rect x="1972.52" y="543.50" width="5.70" height="2.90" fill="#4472c4" stroke="none" />
<line x1="1225.80" y1="544.50" x2="1225.80" y2="555.50" stroke="#898989" stroke-width="1.6" />
<line x1="1233.26" y1="544.50" x2="1233.26" y2="555.50" stroke="#898989" stroke-width="1.6" />
<line x1="1240.72" y1="544.50" x2="1240.72" y2="555.50" stroke="#898989" stroke-width="1.6" />
<line x1="1248.18" y1="544.50" x2="1248.18" y2="555.50" stroke="#898989" stroke-width="1.6" />
<line x1="1255.63" y1="544.50" x2="1255.63" y2="555.50" stroke="#898989" stroke-width="1.6" />
<line x1="1263.09" y1="544.50" x2="1263.09" y2="555.50" stroke="#898989" stroke-width="1.6" />
<line x1="1270.55" y1="544.50" x2="1270.55" y2="555.50" stroke="#898989" stroke-width="1.6" />
<line x1="1278.01" y1="544.50" x2="1278.01" y2="555.50" stroke="#898989" stroke-width="1.6" />
<line x1="1285.47" y1="544.50" x2="1285.47" y2="555.50" stroke="#898989" stroke-width="1.6" />
<line x1="1292.93" y1="544.50" x2="1292.93" y2="555.50" stroke="#898989" stroke-width="1.6" />
<line x1="1300.38" y1="544.50" x2="1300.38" y2="555.50" stroke="#898989" stroke-width="1.6" />
<line x1="1307.84" y1="544.50" x2="1307.84" y2="555.50" stroke="#898989" stroke-width="1.6" />
<line x1="1315.30" y1="544.50" x2="1315.30" y2="555.50" stroke="#898989" stroke-width="1.6" />
<line x1="1322.76" y1="544.50" x2="1322.76" y2="555.50" stroke="#898989" stroke-width="1.6" />
<line x1="1330.22" y1="544.50" x2="1330.22" y2="555.50" stroke="#898989" stroke-width="1.6" />
<line x1="1337.68" y1="544.50" x2="1337.68" y2="555.50" stroke="#898989" stroke-width="1.6" />
<line x1="1345.13" y1="544.50" x2="1345.13" y2="555.50" stroke="#898989" stroke-width="1.6" />
<line x1="1352.59" y1="544.50" x2="1352.59" y2="555.50" stroke="#898989" stroke-width="1.6" />
<line x1="1360.05" y1="544.50" x2="1360.05" y2="555.50" stroke="#898989" stroke-width="1.6" />
<line x1="1367.51" y1="544.50" x2="1367.51" y2="555.50" stroke="#898989" stroke-width="1.6" />
<line x1="1374.97" y1="544.50" x2="1374.97" y2="555.50" stroke="#898989" stroke-width="1.6" />
<line x1="1382.43" y1="544.50" x2="1382.43" y2="555.50" stroke="#898989" stroke-width="1.6" />
<line x1="1389.89" y1="544.50" x2="1389.89" y2="555.50" stroke="#898989" stroke-width="1.6" />
<line x1="1397.34" y1="544.50" x2="1397.34" y2="555.50" stroke="#898989" stroke-width="1.6" />
<line x1="1404.80" y1="544.50" x2="1404.80" y2="555.50" stroke="#898989" stroke-width="1.6" />
<line x1="1412.26" y1="544.50" x2="1412.26" y2="555.50" stroke="#898989" stroke-width="1.6" />
<line x1="1419.72" y1="544.50" x2="1419.72" y2="555.50" stroke="#898989" stroke-width="1.6" />
<line x1="1427.18" y1="544.50" x2="1427.18" y2="555.50" stroke="#898989" stroke-width="1.6" />
<line x1="1434.64" y1="544.50" x2="1434.64" y2="555.50" stroke="#898989" stroke-width="1.6" />
<line x1="1442.09" y1="544.50" x2="1442.09" y2="555.50" stroke="#898989" stroke-width="1.6" />
<line x1="1449.55" y1="544.50" x2="1449.55" y2="555.50" stroke="#898989" stroke-width="1.6" />
<line x1="1457.01" y1="544.50" x2="1457.01" y2="555.50" stroke="#898989" stroke-width="1.6" />
<line x1="1464.47" y1="544.50" x2="1464.47" y2="555.50" stroke="#898989" stroke-width="1.6" />
<line x1="1471.93" y1="544.50" x2="1471.93" y2="555.50" stroke="#898989" stroke-width="1.6" />
<line x1="1479.39" y1="544.50" x2="1479.39" y2="555.50" stroke="#898989" stroke-width="1.6" />
<line x1="1486.84" y1="544.50" x2="1486.84" y2="555.50" stroke="#898989" stroke-width="1.6" />
<line x1="1494.30" y1="544.50" x2="1494.30" y2="555.50" stroke="#898989" stroke-width="1.6" />
<line x1="1501.76" y1="544.50" x2="1501.76" y2="555.50" stroke="#898989" stroke-width="1.6" />
<line x1="1509.22" y1="544.50" x2="1509.22" y2="555.50" stroke="#898989" stroke-width="1.6" />
<line x1="1516.68" y1="544.50" x2="1516.68" y2="555.50" stroke="#898989" stroke-width="1.6" />
<line x1="1524.14" y1="544.50" x2="1524.14" y2="555.50" stroke="#898989" stroke-width="1.6" />
<line x1="1531.60" y1="544.50" x2="1531.60" y2="555.50" stroke="#898989" stroke-width="1.6" />
<line x1="1539.05" y1="544.50" x2="1539.05" y2="555.50" stroke="#898989" stroke-width="1.6" />
<line x1="1546.51" y1="544.50" x2="1546.51" y2="555.50" stroke="#898989" stroke-width="1.6" />
<line x1="1553.97" y1="544.50" x2="1553.97" y2="555.50" stroke="#898989" stroke-width="1.6" />
<line x1="1561.43" y1="544.50" x2="1561.43" y2="555.50" stroke="#898989" stroke-width="1.6" />
<line x1="1568.89" y1="544.50" x2="1568.89" y2="555.50" stroke="#898989" stroke-width="1.6" />
<line x1="1576.35" y1="544.50" x2="1576.35" y2="555.50" stroke="#898989" stroke-width="1.6" />
<line x1="1583.80" y1="544.50" x2="1583.80" y2="555.50" stroke="#898989" stroke-width="1.6" />
<line x1="1591.26" y1="544.50" x2="1591.26" y2="555.50" stroke="#898989" stroke-width="1.6" />
<line x1="1598.72" y1="544.50" x2="1598.72" y2="555.50" stroke="#898989" stroke-width="1.6" />
<line x1="1606.18" y1="544.50" x2="1606.18" y2="555.50" stroke="#898989" stroke-width="1.6" />
<line x1="1613.64" y1="544.50" x2="1613.64" y2="555.50" stroke="#898989" stroke-width="1.6" />
<line x1="1621.10" y1="544.50" x2="1621.10" y2="555.50" stroke="#898989" stroke-width="1.6" />
<line x1="1628.55" y1="544.50" x2="1628.55" y2="555.50" stroke="#898989" stroke-width="1.6" />
<line x1="1636.01" y1="544.50" x2="1636.01" y2="555.50" stroke="#898989" stroke-width="1.6" />
<line x1="1643.47" y1="544.50" x2="1643.47" y2="555.50" stroke="#898989" stroke-width="1.6" />
<line x1="1650.93" y1="544.50" x2="1650.93" y2="555.50" stroke="#898989" stroke-width="1.6" />
<line x1="1658.39" y1="544.50" x2="1658.39" y2="555.50" stroke="#898989" stroke-width="1.6" />
<line x1="1665.85" y1="544.50" x2="1665.85" y2="555.50" stroke="#898989" stroke-width="1.6" />
<line x1="1673.30" y1="544.50" x2="1673.30" y2="555.50" stroke="#898989" stroke-width="1.6" />
<line x1="1680.76" y1="544.50" x2="1680.76" y2="555.50" stroke="#898989" stroke-width="1.6" />
<line x1="1688.22" y1="544.50" x2="1688.22" y2="555.50" stroke="#898989" stroke-width="1.6" />
<line x1="1695.68" y1="544.50" x2="1695.68" y2="555.50" stroke="#898989" stroke-width="1.6" />
<line x1="1703.14" y1="544.50" x2="1703.14" y2="555.50" stroke="#898989" stroke-width="1.6" />
<line x1="1710.60" y1="544.50" x2="1710.60" y2="555.50" stroke="#898989" stroke-width="1.6" />
<line x1="1718.06" y1="544.50" x2="1718.06" y2="555.50" stroke="#898989" stroke-width="1.6" />
<line x1="1725.51" y1="544.50" x2="1725.51" y2="555.50" stroke="#898989" stroke-width="1.6" />
<line x1="1732.97" y1="544.50" x2="1732.97" y2="555.50" stroke="#898989" stroke-width="1.6" />
<line x1="1740.43" y1="544.50" x2="1740.43" y2="555.50" stroke="#898989" stroke-width="1.6" />
<line x1="1747.89" y1="544.50" x2="1747.89" y2="555.50" stroke="#898989" stroke-width="1.6" />
<line x1="1755.35" y1="544.50" x2="1755.35" y2="555.50" stroke="#898989" stroke-width="1.6" />
<line x1="1762.81" y1="544.50" x2="1762.81" y2="555.50" stroke="#898989" stroke-width="1.6" />
<line x1="1770.26" y1="544.50" x2="1770.26" y2="555.50" stroke="#898989" stroke-width="1.6" />
<line x1="1777.72" y1="544.50" x2="1777.72" y2="555.50" stroke="#898989" stroke-width="1.6" />
<line x1="1785.18" y1="544.50" x2="1785.18" y2="555.50" stroke="#898989" stroke-width="1.6" />
<line x1="1792.64" y1="544.50" x2="1792.64" y2="555.50" stroke="#898989" stroke-width="1.6" />
<line x1="1800.10" y1="544.50" x2="1800.10" y2="555.50" stroke="#898989" stroke-width="1.6" />
<line x1="1807.56" y1="544.50" x2="1807.56" y2="555.50" stroke="#898989" stroke-width="1.6" />
<line x1="1815.01" y1="544.50" x2="1815.01" y2="555.50" stroke="#898989" stroke-width="1.6" />
<line x1="1822.47" y1="544.50" x2="1822.47" y2="555.50" stroke="#898989" stroke-width="1.6" />
<line x1="1829.93" y1="544.50" x2="1829.93" y2="555.50" stroke="#898989" stroke-width="1.6" />
<line x1="1837.39" y1="544.50" x2="1837.39" y2="555.50" stroke="#898989" stroke-width="1.6" />
<line x1="1844.85" y1="544.50" x2="1844.85" y2="555.50" stroke="#898989" stroke-width="1.6" />
<line x1="1852.31" y1="544.50" x2="1852.31" y2="555.50" stroke="#898989" stroke-width="1.6" />
<line x1="1859.77" y1="544.50" x2="1859.77" y2="555.50" stroke="#898989" stroke-width="1.6" />
<line x1="1867.22" y1="544.50" x2="1867.22" y2="555.50" stroke="#898989" stroke-width="1.6" />
<line x1="1874.68" y1="544.50" x2="1874.68" y2="555.50" stroke="#898989" stroke-width="1.6" />
<line x1="1882.14" y1="544.50" x2="1882.14" y2="555.50" stroke="#898989" stroke-width="1.6" />
<line x1="1889.60" y1="544.50" x2="1889.60" y2="555.50" stroke="#898989" stroke-width="1.6" />
<line x1="1897.06" y1="544.50" x2="1897.06" y2="555.50" stroke="#898989" stroke-width="1.6" />
<line x1="1904.52" y1="544.50" x2="1904.52" y2="555.50" stroke="#898989" stroke-width="1.6" />
<line x1="1911.97" y1="544.50" x2="1911.97" y2="555.50" stroke="#898989" stroke-width="1.6" />
<line x1="1919.43" y1="544.50" x2="1919.43" y2="555.50" stroke="#898989" stroke-width="1.6" />
<line x1="1926.89" y1="544.50" x2="1926.89" y2="555.50" stroke="#898989" stroke-width="1.6" />
<line x1="1934.35" y1="544.50" x2="1934.35" y2="555.50" stroke="#898989" stroke-width="1.6" />
<line x1="1941.81" y1="544.50" x2="1941.81" y2="555.50" stroke="#898989" stroke-width="1.6" />
<line x1="1949.27" y1="544.50" x2="1949.27" y2="555.50" stroke="#898989" stroke-width="1.6" />
<line x1="1956.72" y1="544.50" x2="1956.72" y2="555.50" stroke="#898989" stroke-width="1.6" />
<line x1="1964.18" y1="544.50" x2="1964.18" y2="555.50" stroke="#898989" stroke-width="1.6" />
<line x1="1971.64" y1="544.50" x2="1971.64" y2="555.50" stroke="#898989" stroke-width="1.6" />
<line x1="1979.10" y1="544.50" x2="1979.10" y2="555.50" stroke="#898989" stroke-width="1.6" />
<line x1="1225.00" y1="544.50" x2="1979.90" y2="544.50" stroke="#898989" stroke-width="2.1" />
<line x1="1225.80" y1="29.05" x2="1225.80" y2="648.30" stroke="#898989" stroke-width="2.0" />
<line x1="1214.60" y1="29.85" x2="1225.80" y2="29.85" stroke="#898989" stroke-width="1.6" />
<line x1="1214.60" y1="132.78" x2="1225.80" y2="132.78" stroke="#898989" stroke-width="1.6" />
<line x1="1214.60" y1="235.71" x2="1225.80" y2="235.71" stroke="#898989" stroke-width="1.6" />
<line x1="1214.60" y1="338.64" x2="1225.80" y2="338.64" stroke="#898989" stroke-width="1.6" />
<line x1="1214.60" y1="441.57" x2="1225.80" y2="441.57" stroke="#898989" stroke-width="1.6" />
<line x1="1214.60" y1="544.50" x2="1225.80" y2="544.50" stroke="#898989" stroke-width="1.6" />
<line x1="1214.60" y1="647.43" x2="1225.80" y2="647.43" stroke="#898989" stroke-width="1.6" />
<path d="M1237.39,553.45 L1975.37,553.45" fill="none" stroke="#a9d18e" stroke-width="6.4" stroke-linecap="round" stroke-dasharray="0 12.41"/>
<path d="M1237.39,535.55 L1975.37,535.55" fill="none" stroke="#ff0000" stroke-width="6.4" stroke-linecap="round" stroke-dasharray="0 12.41"/>
<text transform="translate(1175.71,39.85) scale(0.9292,1)" font-size="32.47">1</text>
<text transform="translate(1147.28,142.78) scale(0.9998,1)" font-size="32.47">0.8</text>
<text transform="translate(1147.28,245.71) scale(0.9998,1)" font-size="32.47">0.6</text>
<text transform="translate(1147.29,348.64) scale(0.9885,1)" font-size="32.47">0.4</text>
<text transform="translate(1147.27,451.57) scale(1.0056,1)" font-size="32.47">0.2</text>
<text transform="translate(1174.50,554.50) scale(0.9835,1)" font-size="32.47">0</text>
<text transform="translate(1136.10,657.43) scale(1.0114,1)" font-size="32.47">-0.2</text>
<text transform="translate(1242.53,584.70) rotate(-90) scale(0.9510,1)" font-size="33.58">0</text>
<text transform="translate(1287.28,585.07) rotate(-90) scale(0.9818,1)" font-size="33.58">6</text>
<text transform="translate(1332.03,602.56) rotate(-90) scale(0.9658,1)" font-size="33.58">12</text>
<text transform="translate(1376.78,602.54) rotate(-90) scale(0.9585,1)" font-size="33.58">18</text>
<text transform="translate(1421.53,601.67) rotate(-90) scale(0.9214,1)" font-size="33.58">24</text>
<text transform="translate(1466.28,601.28) rotate(-90) scale(0.9192,1)" font-size="33.58">30</text>
<text transform="translate(1511.03,601.29) rotate(-90) scale(0.9236,1)" font-size="33.58">36</text>
<text transform="translate(1555.78,600.82) rotate(-90) scale(0.9170,1)" font-size="33.58">42</text>
<text transform="translate(1600.53,600.81) rotate(-90) scale(0.9104,1)" font-size="33.58">48</text>
<text transform="translate(1645.28,601.35) rotate(-90) scale(0.9126,1)" font-size="33.58">54</text>
<text transform="translate(1690.03,601.69) rotate(-90) scale(0.9304,1)" font-size="33.58">60</text>
<text transform="translate(1734.78,601.70) rotate(-90) scale(0.9350,1)" font-size="33.58">66</text>
<text transform="translate(1779.54,601.71) rotate(-90) scale(0.9419,1)" font-size="33.58">72</text>
<text transform="translate(1824.29,601.70) rotate(-90) scale(0.9350,1)" font-size="33.58">78</text>
<text transform="translate(1869.04,601.43) rotate(-90) scale(0.9147,1)" font-size="33.58">84</text>
<text transform="translate(1913.79,601.61) rotate(-90) scale(0.9281,1)" font-size="33.58">90</text>
<text transform="translate(1958.54,601.61) rotate(-90) scale(0.9327,1)" font-size="33.58">96</text>
<text transform="translate(1423.13,29.80) scale(0.9530,1)" font-size="25.52" font-weight="bold" stroke-width="0.1">Correlogram Rh</text>
<text transform="translate(1075.40,399.74) rotate(-90) scale(0.9999,1)" font-size="26.24">Correlation</text>
<text transform="translate(1538.12,673.80) scale(0.9206,1)" font-size="25.78">Lags (Days)</text>
<rect x="1800.50" y="24.20" width="89.30" height="15.30" fill="#a6a6a6" stroke="#4472c4" stroke-width="2.6"/>
<path d="M1800.50,95.80 L1890.00,95.80" fill="none" stroke="#a9d18e" stroke-width="6.4" stroke-linecap="round" stroke-dasharray="0 12.4"/>
<path d="M1800.50,159.90 L1890.00,159.90" fill="none" stroke="#ff0000" stroke-width="6.4" stroke-linecap="round" stroke-dasharray="0 12.4"/>
<text transform="translate(1899.49,39.10) scale(1.0395,1)" font-size="24.98">pacf</text>
<text transform="translate(1899.32,103.80) scale(1.1074,1)" font-size="24.79">lower</text>
<text transform="translate(1899.43,167.50) scale(1.0618,1)" font-size="25.26">upper</text>
<rect x="180.07" y="830.87" width="24.80" height="333.83" fill="#0070c0" stroke="none" />
<rect x="314.80" y="910.82" width="24.80" height="253.88" fill="#0070c0" stroke="none" />
<rect x="449.53" y="1005.26" width="24.80" height="159.44" fill="#0070c0" stroke="none" />
<rect x="584.27" y="1104.08" width="24.80" height="60.62" fill="#0070c0" stroke="none" />
<rect x="719.00" y="1164.70" width="24.80" height="24.87" fill="#0070c0" stroke="none" />
<rect x="853.73" y="1164.70" width="24.80" height="77.78" fill="#0070c0" stroke="none" />
<line x1="259.83" y1="1164.70" x2="259.83" y2="1176.20" stroke="#898989" stroke-width="1.7" />
<line x1="394.57" y1="1164.70" x2="394.57" y2="1176.20" stroke="#898989" stroke-width="1.7" />
<line x1="529.30" y1="1164.70" x2="529.30" y2="1176.20" stroke="#898989" stroke-width="1.7" />
<line x1="664.03" y1="1164.70" x2="664.03" y2="1176.20" stroke="#898989" stroke-width="1.7" />
<line x1="798.77" y1="1164.70" x2="798.77" y2="1176.20" stroke="#898989" stroke-width="1.7" />
<line x1="933.50" y1="1164.70" x2="933.50" y2="1176.20" stroke="#898989" stroke-width="1.7" />
<line x1="113.60" y1="1164.70" x2="934.35" y2="1164.70" stroke="#898989" stroke-width="1.9" />
<line x1="125.10" y1="763.25" x2="125.10" y2="1299.15" stroke="#898989" stroke-width="1.9" />
<line x1="113.60" y1="764.10" x2="125.10" y2="764.10" stroke="#898989" stroke-width="1.7" />
<text transform="translate(47.60,774.30) scale(0.9706,1)" font-size="32.62">1.2</text>
<line x1="113.60" y1="830.87" x2="125.10" y2="830.87" stroke="#898989" stroke-width="1.7" />
<text transform="translate(74.59,841.07) scale(0.9321,1)" font-size="32.62">1</text>
<line x1="113.60" y1="897.63" x2="125.10" y2="897.63" stroke="#898989" stroke-width="1.7" />
<text transform="translate(46.28,907.83) scale(0.9954,1)" font-size="32.62">0.8</text>
<line x1="113.60" y1="964.40" x2="125.10" y2="964.40" stroke="#898989" stroke-width="1.7" />
<text transform="translate(46.28,974.60) scale(0.9954,1)" font-size="32.62">0.6</text>
<line x1="113.60" y1="1031.17" x2="125.10" y2="1031.17" stroke="#898989" stroke-width="1.7" />
<text transform="translate(46.29,1041.37) scale(0.9841,1)" font-size="32.62">0.4</text>
<line x1="113.60" y1="1097.93" x2="125.10" y2="1097.93" stroke="#898989" stroke-width="1.7" />
<text transform="translate(46.27,1108.13) scale(1.0011,1)" font-size="32.62">0.2</text>
<line x1="113.60" y1="1164.70" x2="125.10" y2="1164.70" stroke="#898989" stroke-width="1.7" />
<text transform="translate(73.50,1174.90) scale(0.9791,1)" font-size="32.62">0</text>
<line x1="113.60" y1="1231.47" x2="125.10" y2="1231.47" stroke="#898989" stroke-width="1.7" />
<text transform="translate(35.10,1241.67) scale(1.0069,1)" font-size="32.62">-0.2</text>
<line x1="113.60" y1="1298.23" x2="125.10" y2="1298.23" stroke="#898989" stroke-width="1.7" />
<text transform="translate(35.12,1308.43) scale(0.9931,1)" font-size="32.62">-0.4</text>
<path d="M327.20,1133.19 L461.93,1118.43 L596.67,1113.72 L731.40,1113.09 L866.13,1112.86" fill="none" stroke="#ed7d31" stroke-width="5.5" stroke-linecap="round" stroke-dasharray="0 10.64"/>
<path d="M327.20,1197.08 L461.93,1211.60 L596.67,1216.94 L731.40,1217.61 L866.13,1217.78" fill="none" stroke="#ffff00" stroke-width="5.5" stroke-linecap="round" stroke-dasharray="0 10.64"/>
<text transform="translate(183.03,1221.80) scale(1.0637,1)" font-size="31.60">0</text>
<text transform="translate(318.38,1221.80) scale(0.9695,1)" font-size="31.60">1</text>
<text transform="translate(452.92,1221.80) scale(1.0467,1)" font-size="31.60">2</text>
<text transform="translate(587.93,1221.80) scale(0.9694,1)" font-size="31.60">3</text>
<text transform="translate(722.98,1221.80) scale(0.9807,1)" font-size="31.60">4</text>
<text transform="translate(858.16,1221.80) scale(0.8827,1)" font-size="31.60">5</text>
<text transform="translate(362.92,774.80) scale(0.9519,1)" font-size="25.66" font-weight="bold" stroke-width="0.1">Correlogram T</text>
<text transform="translate(23.00,1095.64) rotate(-90) scale(0.9835,1)" font-size="26.66">Correlation</text>
<text transform="translate(450.97,1347.60) scale(1.0005,1)" font-size="25.49">Lags(Months)</text>
<rect x="743.90" y="761.00" width="89.90" height="15.90" fill="#0070c0" stroke="none" />
<path d="M743.90,818.10 L832.00,818.10" fill="none" stroke="#ffff00" stroke-width="5.7" stroke-linecap="round" stroke-dasharray="0 10.64"/>
<path d="M743.90,867.10 L832.00,867.10" fill="none" stroke="#ed7d31" stroke-width="5.7" stroke-linecap="round" stroke-dasharray="0 10.64"/>
<text transform="translate(842.90,776.90) scale(1.0190,1)" font-size="24.79">acf</text>
<text transform="translate(842.12,826.10) scale(1.1074,1)" font-size="24.79">lower</text>
<text transform="translate(842.24,875.30) scale(1.0586,1)" font-size="25.26">upper</text>
<rect x="1236.87" y="852.33" width="25.40" height="388.67" fill="#0070c0" stroke="none" />
<rect x="1375.00" y="1026.07" width="25.40" height="214.93" fill="#0070c0" stroke="none" />
<rect x="1513.13" y="1146.67" width="25.40" height="94.33" fill="#0070c0" stroke="none" />
<rect x="1651.27" y="1232.60" width="25.40" height="8.40" fill="#0070c0" stroke="none" />
<rect x="1789.40" y="1241.00" width="25.40" height="30.70" fill="#0070c0" stroke="none" />
<rect x="1927.53" y="1241.00" width="25.40" height="49.75" fill="#0070c0" stroke="none" />
<line x1="1318.63" y1="1241.00" x2="1318.63" y2="1252.50" stroke="#898989" stroke-width="1.7" />
<line x1="1456.77" y1="1241.00" x2="1456.77" y2="1252.50" stroke="#898989" stroke-width="1.7" />
<line x1="1594.90" y1="1241.00" x2="1594.90" y2="1252.50" stroke="#898989" stroke-width="1.7" />
<line x1="1733.03" y1="1241.00" x2="1733.03" y2="1252.50" stroke="#898989" stroke-width="1.7" />
<line x1="1871.17" y1="1241.00" x2="1871.17" y2="1252.50" stroke="#898989" stroke-width="1.7" />
<line x1="2009.30" y1="1241.00" x2="2009.30" y2="1252.50" stroke="#898989" stroke-width="1.7" />
<line x1="1169.00" y1="1241.00" x2="2010.15" y2="1241.00" stroke="#898989" stroke-width="1.9" />
<line x1="1180.50" y1="773.75" x2="1180.50" y2="1319.65" stroke="#898989" stroke-width="1.9" />
<line x1="1169.00" y1="774.60" x2="1180.50" y2="774.60" stroke="#898989" stroke-width="1.7" />
<text transform="translate(1103.60,785.00) scale(0.9706,1)" font-size="32.62">1.2</text>
<line x1="1169.00" y1="852.33" x2="1180.50" y2="852.33" stroke="#898989" stroke-width="1.7" />
<text transform="translate(1130.59,862.73) scale(0.9321,1)" font-size="32.62">1</text>
<line x1="1169.00" y1="930.07" x2="1180.50" y2="930.07" stroke="#898989" stroke-width="1.7" />
<text transform="translate(1102.28,940.47) scale(0.9954,1)" font-size="32.62">0.8</text>
<line x1="1169.00" y1="1007.80" x2="1180.50" y2="1007.80" stroke="#898989" stroke-width="1.7" />
<text transform="translate(1102.28,1018.20) scale(0.9954,1)" font-size="32.62">0.6</text>
<line x1="1169.00" y1="1085.53" x2="1180.50" y2="1085.53" stroke="#898989" stroke-width="1.7" />
<text transform="translate(1102.29,1095.93) scale(0.9841,1)" font-size="32.62">0.4</text>
<line x1="1169.00" y1="1163.27" x2="1180.50" y2="1163.27" stroke="#898989" stroke-width="1.7" />
<text transform="translate(1102.27,1173.67) scale(1.0011,1)" font-size="32.62">0.2</text>
<line x1="1169.00" y1="1241.00" x2="1180.50" y2="1241.00" stroke="#898989" stroke-width="1.7" />
<text transform="translate(1129.50,1251.40) scale(0.9791,1)" font-size="32.62">0</text>
<line x1="1169.00" y1="1318.73" x2="1180.50" y2="1318.73" stroke="#898989" stroke-width="1.7" />
<text transform="translate(1091.10,1329.13) scale(1.0069,1)" font-size="32.62">-0.2</text>
<path d="M1387.70,1204.19 L1525.83,1194.36 L1663.97,1192.69 L1802.10,1192.65 L1940.23,1192.42" fill="none" stroke="#ed7d31" stroke-width="5.5" stroke-linecap="round" stroke-dasharray="0 10.64"/>
<path d="M1387.70,1278.70 L1525.83,1288.22 L1663.97,1290.05 L1802.10,1290.17 L1940.23,1290.28" fill="none" stroke="#ffff00" stroke-width="5.5" stroke-linecap="round" stroke-dasharray="0 10.64"/>
<text transform="translate(1240.36,1297.70) scale(1.0438,1)" font-size="31.60">0</text>
<text transform="translate(1379.39,1297.70) scale(0.9622,1)" font-size="31.60">1</text>
<text transform="translate(1517.31,1297.70) scale(0.9911,1)" font-size="31.60">2</text>
<text transform="translate(1655.83,1297.70) scale(0.9627,1)" font-size="31.60">3</text>
<text transform="translate(1793.69,1297.70) scale(0.9619,1)" font-size="31.60">4</text>
<text transform="translate(1932.14,1297.70) scale(0.8961,1)" font-size="31.60">5</text>
<text transform="translate(1438.93,774.80) scale(0.9682,1)" font-size="25.09" font-weight="bold" stroke-width="0.1">Correlogram Rh</text>
<text transform="translate(1074.20,1111.54) rotate(-90) scale(0.9732,1)" font-size="27.07">Correlation</text>
<text transform="translate(1517.88,1347.50) scale(0.9952,1)" font-size="25.49">Lags(Months)</text>
<rect x="1805.30" y="767.10" width="89.90" height="15.90" fill="#0070c0" stroke="none" />
<path d="M1805.30,824.20 L1893.40,824.20" fill="none" stroke="#ffff00" stroke-width="5.7" stroke-linecap="round" stroke-dasharray="0 10.64"/>
<path d="M1805.30,873.20 L1893.40,873.20" fill="none" stroke="#ed7d31" stroke-width="5.7" stroke-linecap="round" stroke-dasharray="0 10.64"/>
<text transform="translate(1904.30,783.00) scale(1.0190,1)" font-size="24.79">acf</text>
<text transform="translate(1903.52,832.20) scale(1.1074,1)" font-size="24.79">lower</text>
<text transform="translate(1903.64,881.40) scale(1.0586,1)" font-size="25.26">upper</text>
</g>
</svg></body></html>
